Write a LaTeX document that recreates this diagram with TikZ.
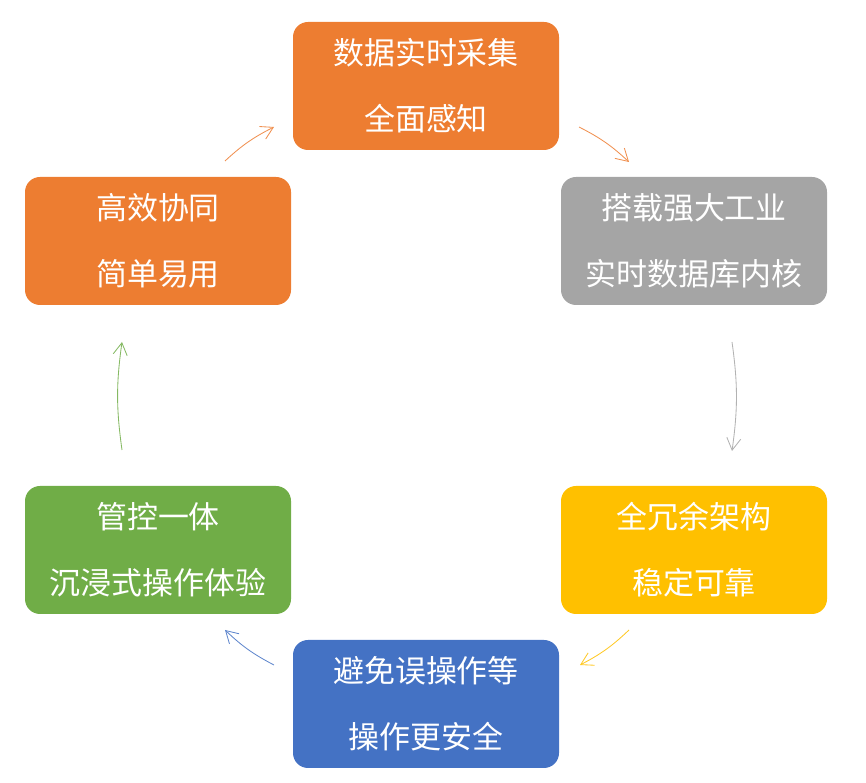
\documentclass[tikz,border=0pt]{standalone}
\usepackage{fontspec}
\newfontfamily\cjk{Noto Sans CJK SC}
\usetikzlibrary{arrows.meta}

\definecolor{boxorange}{HTML}{ED7D31}
\definecolor{boxgray}{HTML}{A5A5A5}
\definecolor{boxgold}{HTML}{FFC000}
\definecolor{boxblue}{HTML}{4472C4}
\definecolor{boxgreen}{HTML}{70AD47}

\tikzset{
every picture/.style={
line width=0.6pt
},
stagebox/.style={
rectangle, rounded corners=0.375cm, fill=#1, draw=none,
minimum width=6.65cm, minimum height=3.2cm, inner sep=0pt,
text=white, align=center, font={\cjk\fontsize{22}{47}\selectfont}
},
flow/.style={
draw=#1!85, -{Straight Barb[length=3mm,width=3.5mm]}, bend left=8
}}

\begin{document}
\begin{tikzpicture}
\useasboundingbox (0,0) rectangle (21.65,19.575);

\node[stagebox=boxorange] (collect) at (10.65,17.425) {数据实时采集\\全面感知};
\node[stagebox=boxgray]   (kernel)  at (17.35,13.55)  {搭载强大工业\\实时数据库内核};
\node[stagebox=boxgold]   (redund)  at (17.35,5.825)  {全冗余架构\\稳定可靠};
\node[stagebox=boxblue]   (safe)    at (10.65,1.975)  {避免误操作等\\操作更安全};
\node[stagebox=boxgreen]  (immerse) at (3.95,5.825)   {管控一体\\沉浸式操作体验};
\node[stagebox=boxorange] (coop)    at (3.95,13.55)   {高效协同\\简单易用};

% arrow ends, kept clear of the boxes
\coordinate (a1s) at (14.475,16.4);  \coordinate (a1e) at (15.725,15.525);
\coordinate (a2s) at (18.3,11.025);  \coordinate (a2e) at (18.3,8.3);
\coordinate (a3s) at (15.725,3.825); \coordinate (a3e) at (14.5,2.95);
\coordinate (a4s) at (6.85,2.95);    \coordinate (a4e) at (5.625,3.825);
\coordinate (a5s) at (3.05,8.325);   \coordinate (a5e) at (3.05,11.025);
\coordinate (a6s) at (5.625,15.55);  \coordinate (a6e) at (6.85,16.4);

\foreach \ai/\col in {1/boxorange, 2/boxgray, 3/boxgold, 4/boxblue, 5/boxgreen, 6/boxorange}{
  \draw[flow=\col] (a\ai s) to (a\ai e);
}

\end{tikzpicture}
\end{document}
